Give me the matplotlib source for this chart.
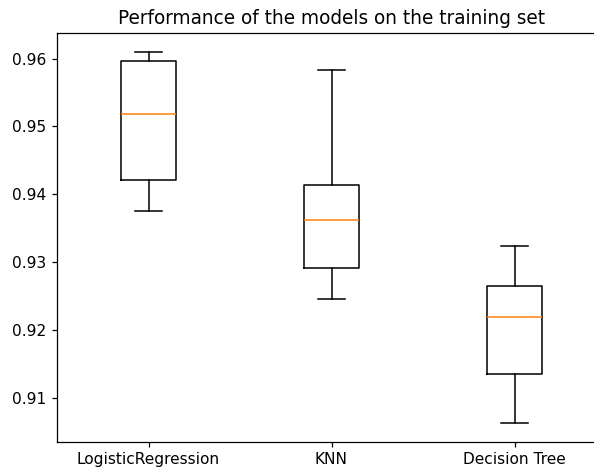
import matplotlib
matplotlib.use("Agg")
import matplotlib.pyplot as plt

# box statistics
models = ["LogisticRegression", "KNN", "Decision Tree"]
whisker_low = [0.93754, 0.92451, 0.90628]
q1 = [0.94210, 0.92907, 0.91348]
median = [0.95187, 0.93622, 0.92196]
q3 = [0.95970, 0.94143, 0.92647]
whisker_high = [0.96099, 0.95838, 0.93231]

stats = []
for i, name in enumerate(models):
    stats.append({
        "label": name,
        "whislo": whisker_low[i],
        "q1": q1[i],
        "med": median[i],
        "q3": q3[i],
        "whishi": whisker_high[i],
        "fliers": [],
    })

dpi = 111
fig = plt.figure(figsize=(594 / dpi, 470 / dpi), dpi=dpi)
# the reference is cropped so the right spine falls outside the image
ax = fig.add_axes([57 / 594, 28.3 / 470, 549 / 594, 408.4 / 470])
ax.bxp(stats)
ax.set_title("Performance of the models on the training set")

fig.savefig("out.png", dpi=dpi)
